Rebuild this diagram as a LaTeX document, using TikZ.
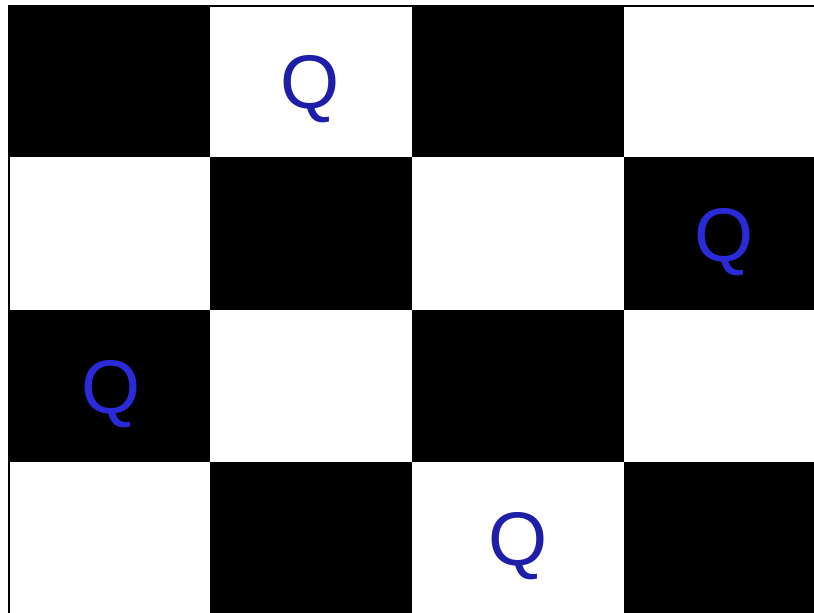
\documentclass[tikz,border=0pt]{standalone}
\usepackage{fontspec}
\setmainfont{Liberation Sans}
\usepackage{tikz}

\definecolor{queenblue}{HTML}{1E1EA8}
\definecolor{queenbright}{HTML}{2A2AD8}

\begin{document}
\begin{tikzpicture}[
x=0.5pt,
y=-0.5pt,
dark/.style={fill=black},
edge/.style={draw=black,line width=1pt},
queen/.style={
text=queenblue,
font=\fontsize{38}{40}\selectfont,
inner sep=0pt
},
queenondark/.style={queen,text=queenbright}
]

\useasboundingbox (0,0) rectangle (814,613);
\fill[white] (0,0) rectangle (814,613);

% row 1
\fill[dark] (8,5) rectangle (210,157);
\fill[dark] (412,5) rectangle (624,157);
% row 2
\fill[dark] (210,157) rectangle (412,310);
\fill[dark] (624,157) rectangle (814,310);
% row 3
\fill[dark] (8,310) rectangle (210,462);
\fill[dark] (412,310) rectangle (624,462);
% row 4
\fill[dark] (210,462) rectangle (412,613);
\fill[dark] (624,462) rectangle (814,613);

\draw[edge] (9,613) -- (9,6) -- (814,6);

\node[queen] (q1) at (310,89) {Q};
\node[queenondark] (q2) at (724,242) {Q};
\node[queenondark] (q3) at (111,394) {Q};
\node[queen] (q4) at (518,546) {Q};

\end{tikzpicture}
\end{document}
